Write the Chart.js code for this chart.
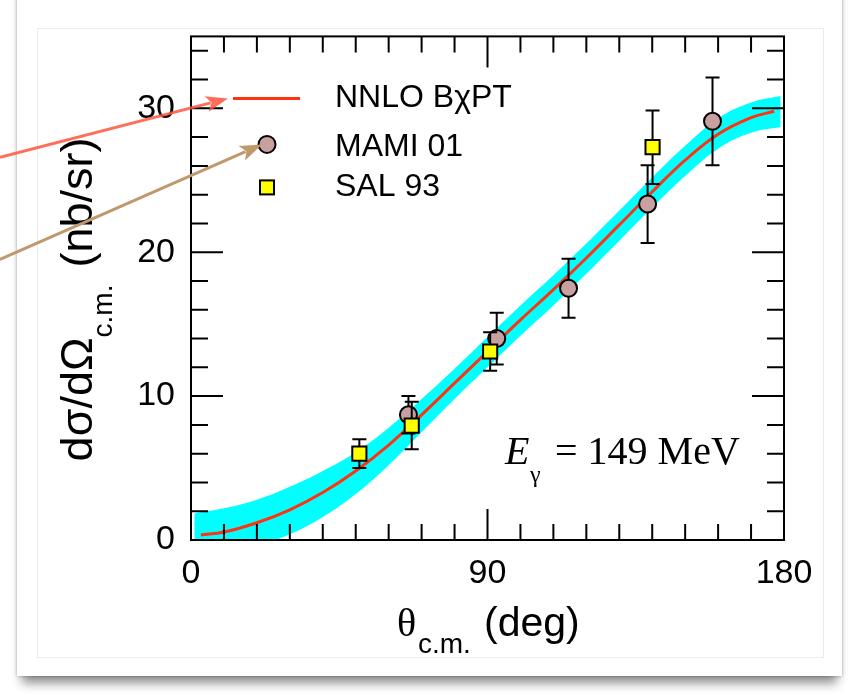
<!DOCTYPE html>
<html lang="en">
<head>
    <meta charset="UTF-8">
    <title>Compton cross section at 149 MeV</title>
    <script src="https://cdn.jsdelivr.net/npm/chart.js@4.4.1/dist/chart.umd.min.js"></script>
    <style>
        body {
            margin: 0;
            width: 848px;
            height: 696px;
            overflow: hidden;
            background: #fff;
            position: relative;
        }
        /* white card with a drop shadow, like the screenshot */
        .card {
            position: absolute;
            left: 17px;
            top: -30px;
            width: 825px;
            height: 706px;
            background: #fff;
            box-shadow: 0 12px 10px -5px rgba(0, 0, 0, 0.45), 0 0 3px rgba(0, 0, 0, 0.3);
        }
        .frame {
            position: absolute;
            left: 37px;
            top: 28px;
            width: 785px;
            height: 628px;
            border: 1px solid #ebebeb;
        }
        #chart {
            position: absolute;
            left: 0;
            top: 0;
        }
    </style>
</head>
<body>
    <div class="card"></div>
    <div class="frame"></div>
    <canvas id="chart" width="848" height="696"></canvas>

    <script>
        // NNLO BχPT central curve
        const curveTheta = [3, 10, 20, 30, 40, 50, 60, 70, 80, 90, 100, 110, 120, 130, 140, 150, 160, 170, 177];
        const curveNNLO = [0.35, 0.55, 1.2, 2.1, 3.3, 4.8, 6.6, 8.7, 10.9, 13.1, 15.3, 17.4, 19.6, 21.9, 24.2, 26.4, 28.2, 29.35, 29.8];

        // uncertainty band (cyan)
        const bandTheta = [1, 10, 20, 30, 40, 50, 60, 70, 80, 90, 100, 110, 120, 130, 140, 150, 160, 170, 179];
        const bandUpper = [1.85, 2.2, 2.8, 3.7, 4.8, 6.1, 7.8, 9.8, 11.9, 14.1, 16.3, 18.4, 20.6, 22.9, 25.2, 27.4, 29.3, 30.4, 30.85];
        const bandLower = [-1.1, -0.9, -0.4, 0.4, 1.6, 3.2, 5.2, 7.5, 9.8, 12.0, 14.2, 16.3, 18.5, 20.8, 23.1, 25.3, 27.2, 28.3, 28.7];

        // MAMI 01 data
        const mamiTheta = [66, 92.8, 114.6, 138.6, 158.3];
        const mamiValue = [8.7, 14.0, 17.5, 23.35, 29.1];
        const mamiError = [1.3, 1.8, 2.05, 2.7, 3.05];

        // SAL 93 data
        const salTheta = [51.1, 67.0, 90.8, 140.1];
        const salValue = [6.0, 7.95, 13.1, 27.3];
        const salError = [1.0, 1.65, 1.33, 2.55];

        // axis ticks
        const xTickValues = [0, 90, 180];
        const yTickValues = [0, 10, 20, 30];

        const legendLabels = ['NNLO BχPT', 'MAMI 01', 'SAL 93'];
        const energyLabel = '= 149 MeV';

        const SANS = '"Liberation Sans", Arial, Helvetica, sans-serif';
        const SERIF = '"Liberation Serif", "Times New Roman", serif';
        const RED = '#ff3311';
        const CYAN = '#00ffff';
        const ROSY = '#c9a0a0';
        const YELLOW = '#ffff00';

        const toPoints = (xs, ys) => xs.map((x, i) => ({ x: x, y: ys[i] }));

        // error bars drawn just before their markers
        const errorBars = {
            id: 'errorBars',
            beforeDatasetDraw(chart, args) {
                const ds = chart.data.datasets[args.index];
                if (!ds.errors) return;
                const xs = chart.scales.x, ys = chart.scales.y, ctx = chart.ctx;
                ctx.save();
                ctx.strokeStyle = '#000';
                ctx.lineWidth = 2;
                ds.data.forEach((p, i) => {
                    const px = xs.getPixelForValue(p.x);
                    const top = ys.getPixelForValue(p.y + ds.errors[i]);
                    const bot = ys.getPixelForValue(p.y - ds.errors[i]);
                    ctx.beginPath();
                    ctx.moveTo(px, top); ctx.lineTo(px, bot);
                    ctx.moveTo(px - 7, top); ctx.lineTo(px + 7, top);
                    ctx.moveTo(px - 7, bot); ctx.lineTo(px + 7, bot);
                    ctx.stroke();
                });
                ctx.restore();
            }
        };

        // box frame with inward ticks on all four sides
        const frameTicks = {
            id: 'frameTicks',
            afterDraw(chart) {
                const ctx = chart.ctx, a = chart.chartArea;
                const xs = chart.scales.x, ys = chart.scales.y;
                ctx.save();
                ctx.strokeStyle = '#000';
                ctx.lineWidth = 2;
                ctx.beginPath();
                for (let v = 0; v <= 180; v += 10) {
                    const px = xs.getPixelForValue(v);
                    const len = xTickValues.includes(v) ? 31 : 16;
                    ctx.moveTo(px, a.bottom); ctx.lineTo(px, a.bottom - len);
                    ctx.moveTo(px, a.top); ctx.lineTo(px, a.top + len);
                }
                for (let v = 0; v <= 35; v += 2) {
                    const py = ys.getPixelForValue(v);
                    const len = yTickValues.includes(v) ? 32 : 17;
                    ctx.moveTo(a.left, py); ctx.lineTo(a.left + len, py);
                    ctx.moveTo(a.right, py); ctx.lineTo(a.right - len, py);
                }
                ctx.stroke();
                ctx.strokeRect(a.left, a.top, a.right - a.left, a.bottom - a.top);
                ctx.restore();
            }
        };

        // axis titles, legend, energy label, arrows
        const annotations = {
            id: 'annotations',
            afterDraw(chart) {
                const ctx = chart.ctx, a = chart.chartArea;
                ctx.save();
                ctx.fillStyle = '#000';
                ctx.textBaseline = 'alphabetic';
                ctx.textAlign = 'left';

                // x title
                ctx.font = '40px ' + SERIF;
                ctx.fillText('θ', a.left + 206, a.bottom + 96);
                ctx.font = '28px ' + SANS;
                ctx.fillText('c.m.', a.left + 227, a.bottom + 113);
                ctx.font = '41px ' + SANS;
                ctx.fillText('(deg)', a.left + 293, a.bottom + 96);

                // y title (rotated)
                ctx.save();
                ctx.translate(a.left - 99, a.top + 425);
                ctx.rotate(-Math.PI / 2);
                ctx.font = '45px ' + SANS;
                ctx.fillText('dσ/dΩ', 0, 0);
                let w = ctx.measureText('dσ/dΩ').width;
                ctx.font = '28px ' + SANS;
                ctx.fillText('c.m.', w, 20);
                w += ctx.measureText('c.m.').width + 17;
                ctx.font = '45px ' + SANS;
                ctx.fillText('(nb/sr)', w, 0);
                ctx.restore();

                // energy label
                ctx.font = 'italic 40px ' + SERIF;
                ctx.fillText('E', a.left + 314, a.top + 428);
                ctx.font = '24px ' + SERIF;
                ctx.fillText('γ', a.left + 339, a.top + 446);
                ctx.font = '40px ' + SERIF;
                ctx.fillText(energyLabel, a.left + 364, a.top + 428);

                // legend
                ctx.strokeStyle = RED;
                ctx.lineWidth = 3;
                ctx.beginPath();
                ctx.moveTo(a.left + 42, a.top + 62);
                ctx.lineTo(a.left + 109, a.top + 62);
                ctx.stroke();

                ctx.strokeStyle = '#000';
                ctx.lineWidth = 2;
                ctx.fillStyle = ROSY;
                ctx.beginPath();
                ctx.arc(a.left + 76, a.top + 108, 8.5, 0, Math.PI * 2);
                ctx.fill();
                ctx.stroke();

                ctx.fillStyle = YELLOW;
                ctx.fillRect(a.left + 69, a.top + 144, 14, 14);
                ctx.strokeRect(a.left + 69, a.top + 144, 14, 14);

                ctx.fillStyle = '#000';
                ctx.font = '32px ' + SANS;
                ctx.fillText(legendLabels[0], a.left + 144, a.top + 71);
                ctx.fillText(legendLabels[1], a.left + 144, a.top + 120);
                ctx.fillText(legendLabels[2], a.left + 144, a.top + 160);

                // arrows pointing at the legend
                drawArrow(ctx, 0, a.top + 121, a.left + 37, a.top + 62, 'rgba(255, 85, 60, 0.85)');
                drawArrow(ctx, 0, a.top + 223, a.left + 71, a.top + 108, 'rgb(192, 152, 108)');
                ctx.restore();
            }
        };

        function drawArrow(ctx, x0, y0, x1, y1, color) {
            const ang = Math.atan2(y1 - y0, x1 - x0);
            const head = 22, half = 8;
            const bx = x1 - head * Math.cos(ang), by = y1 - head * Math.sin(ang);
            ctx.save();
            ctx.strokeStyle = color;
            ctx.fillStyle = color;
            ctx.lineWidth = 3;
            ctx.beginPath();
            ctx.moveTo(x0, y0);
            ctx.lineTo(bx + 4 * Math.cos(ang), by + 4 * Math.sin(ang));
            ctx.stroke();
            ctx.beginPath();
            ctx.moveTo(x1, y1);
            ctx.lineTo(bx - half * Math.sin(ang), by + half * Math.cos(ang));
            ctx.lineTo(bx + 5 * Math.cos(ang), by + 5 * Math.sin(ang));
            ctx.lineTo(bx + half * Math.sin(ang), by - half * Math.cos(ang));
            ctx.closePath();
            ctx.fill();
            ctx.restore();
        }

        new Chart(document.getElementById('chart'), {
            type: 'scatter',
            data: {
                datasets: [
                    {
                        label: 'band upper',
                        type: 'line',
                        data: toPoints(bandTheta, bandUpper),
                        borderWidth: 0,
                        pointRadius: 0,
                        backgroundColor: CYAN,
                        fill: '+1',
                        tension: 0.4,
                        order: 5
                    },
                    {
                        label: 'band lower',
                        type: 'line',
                        data: toPoints(bandTheta, bandLower),
                        borderWidth: 0,
                        pointRadius: 0,
                        fill: false,
                        tension: 0.4,
                        order: 4
                    },
                    {
                        label: legendLabels[0],
                        type: 'line',
                        data: toPoints(curveTheta, curveNNLO),
                        borderColor: RED,
                        borderWidth: 3,
                        pointRadius: 0,
                        fill: false,
                        tension: 0.4,
                        order: 3
                    },
                    {
                        label: legendLabels[1],
                        data: toPoints(mamiTheta, mamiValue),
                        errors: mamiError,
                        pointStyle: 'circle',
                        pointRadius: 8.5,
                        pointBorderWidth: 2,
                        pointBackgroundColor: ROSY,
                        pointBorderColor: '#000',
                        order: 2
                    },
                    {
                        label: legendLabels[2],
                        data: toPoints(salTheta, salValue),
                        errors: salError,
                        pointStyle: 'rect',
                        pointRadius: 10,
                        pointBorderWidth: 2,
                        pointBackgroundColor: YELLOW,
                        pointBorderColor: '#000',
                        order: 1
                    }
                ]
            },
            options: {
                responsive: false,
                animation: false,
                layout: { padding: { left: 0, top: 32, right: 64, bottom: 0 } },
                plugins: {
                    legend: { display: false },
                    tooltip: { enabled: false }
                },
                scales: {
                    x: {
                        type: 'linear',
                        min: 0,
                        max: 180,
                        afterBuildTicks: s => { s.ticks = xTickValues.map(v => ({ value: v })); },
                        afterFit: s => { s.height = 156; },
                        grid: { display: false, drawTicks: false },
                        border: { display: false },
                        ticks: {
                            padding: 13,
                            color: '#000',
                            maxRotation: 0,
                            font: { family: SANS, size: 34 }
                        }
                    },
                    y: {
                        type: 'linear',
                        min: 0,
                        max: 35,
                        afterBuildTicks: s => { s.ticks = yTickValues.map(v => ({ value: v })); },
                        afterFit: s => { s.width = 191; },
                        grid: { display: false, drawTicks: false },
                        border: { display: false },
                        ticks: {
                            padding: 16,
                            color: '#000',
                            font: { family: SANS, size: 34 }
                        }
                    }
                }
            },
            plugins: [errorBars, frameTicks, annotations]
        });
    </script>
</body>
</html>
